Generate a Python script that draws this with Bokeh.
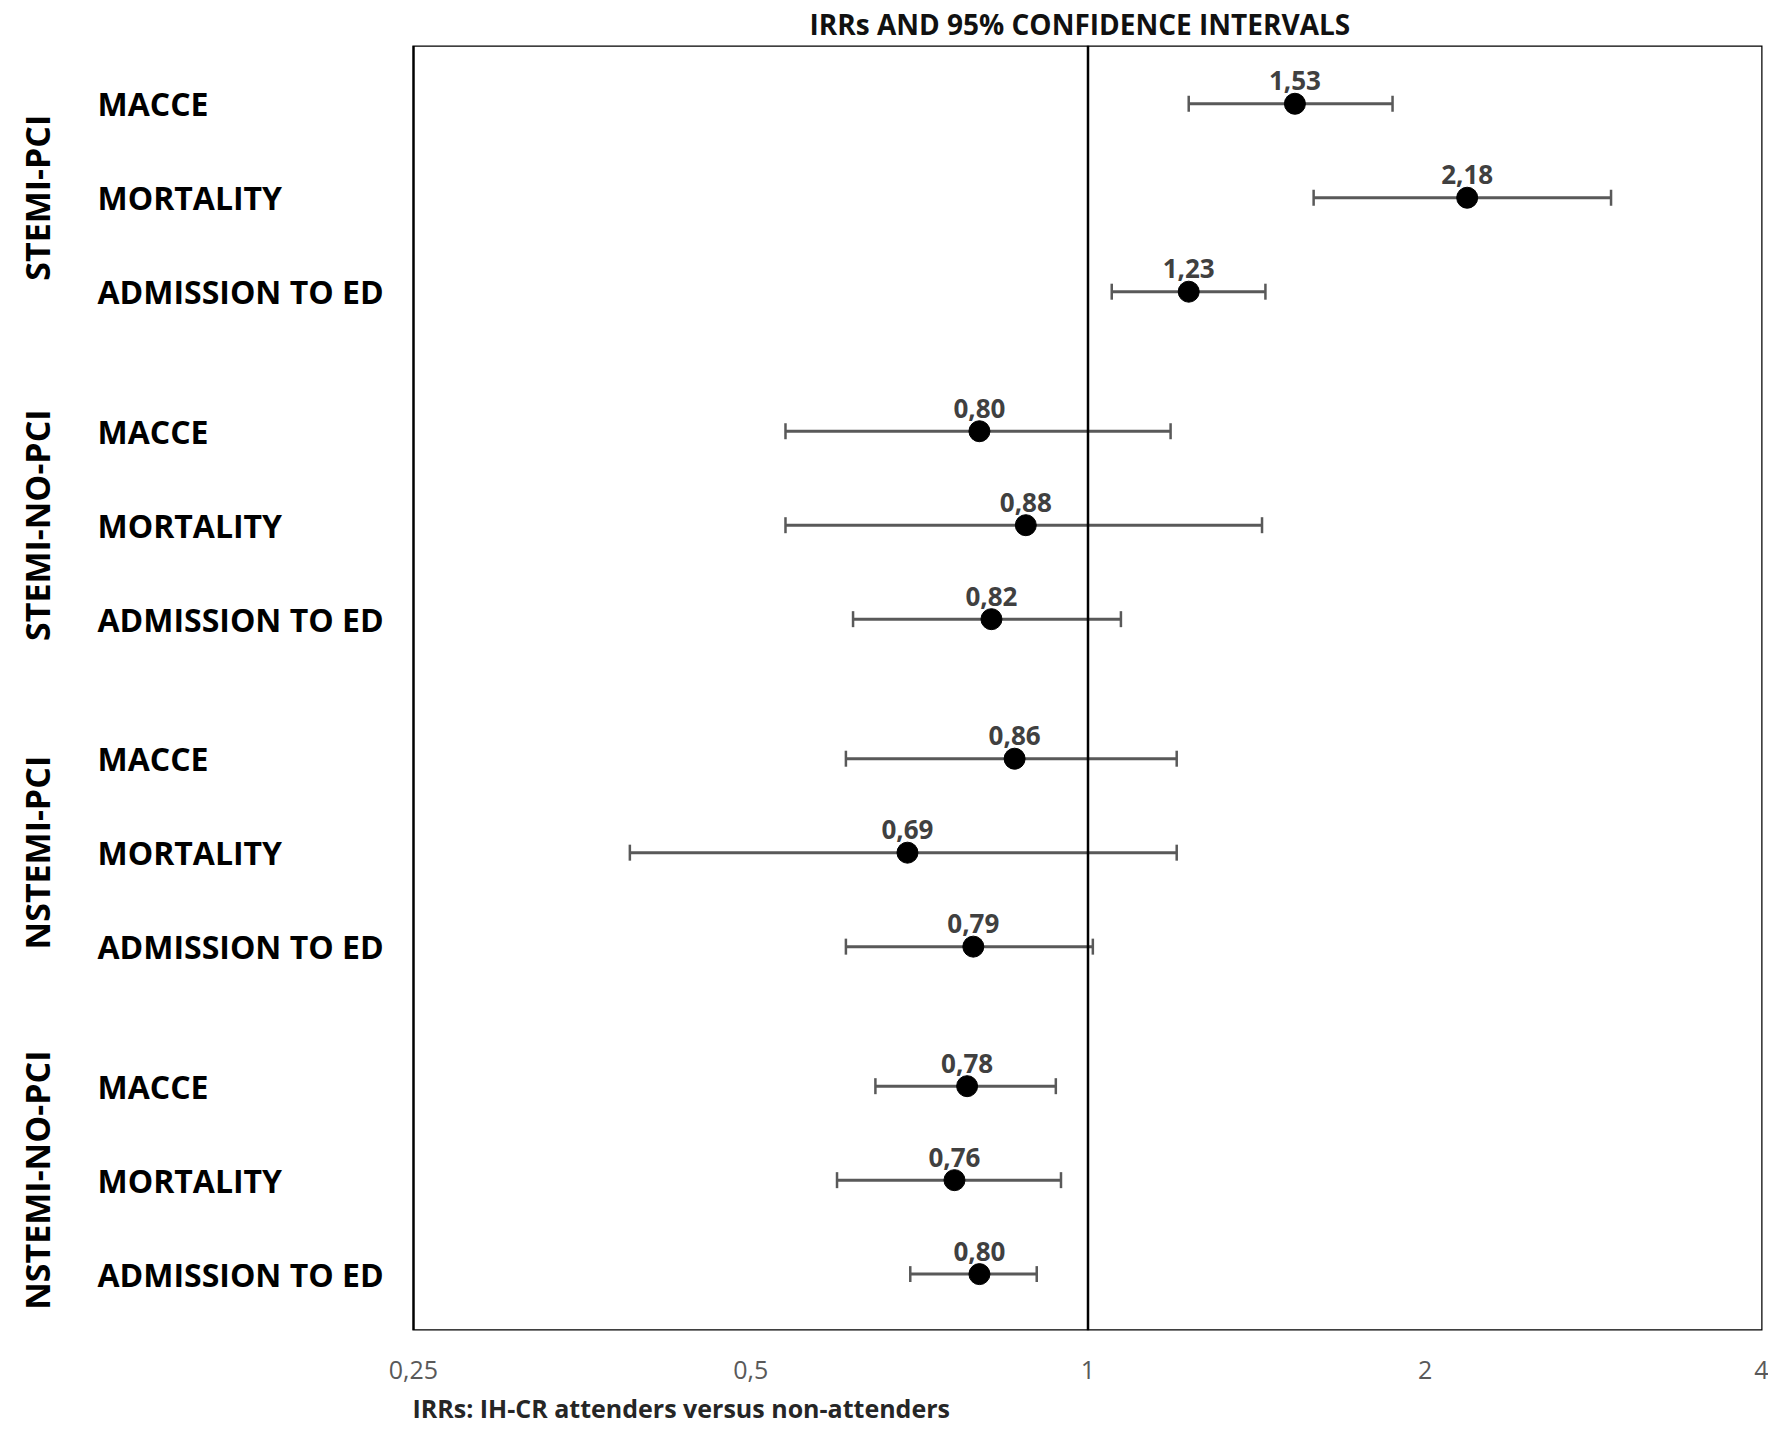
import math
from bokeh.plotting import figure
from bokeh.models import (Range1d, FixedTicker, CustomJSTickFormatter, Span, ColumnDataSource,
                          Whisker, TeeHead, Title, BoxAnnotation)
from bokeh.embed import file_html
from bokeh.resources import INLINE
from bokeh.core.properties import value

# ---------------- data ----------------
groups = ["STEMI-PCI", "STEMI-NO-PCI", "NSTEMI-PCI", "NSTEMI-NO-PCI"]
outcomes = ["MACCE", "MORTALITY", "ADMISSION TO ED"]
irr = [1.53, 2.18, 1.23, 0.80, 0.88, 0.82, 0.86, 0.69, 0.79, 0.78, 0.76, 0.80]
irr_text = ["1,53", "2,18", "1,23", "0,80", "0,88", "0,82", "0,86", "0,69", "0,79", "0,78", "0,76", "0,80"]
ci_low = [1.23, 1.59, 1.05, 0.537, 0.537, 0.617, 0.608, 0.39, 0.608, 0.646, 0.597, 0.694]
ci_high = [1.87, 2.93, 1.44, 1.185, 1.43, 1.07, 1.20, 1.20, 1.01, 0.936, 0.946, 0.90]
x_ticks = [0.25, 0.5, 1, 2, 4]
x_tick_labels = ["0,25", "0,5", "1", "2", "4"]
title_text = "IRRs AND 95% CONFIDENCE INTERVALS"
xlabel_text = "IRRs: IH-CR attenders versus non-attenders"

# ---------------- layout constants ----------------
FONT = "Open Sans"
LABEL_W = 413        # px of label area left of the plot box
PLOT_W = 1349        # px of the plot box
GROUP_GAP = 0.485    # extra spacing between groups (in row units)
X_MIN, X_MAX = x_ticks[0], x_ticks[-1]

px_per_log = PLOT_W / math.log2(X_MAX / X_MIN)
x_start = X_MIN / 2 ** (LABEL_W / px_per_log)

n_out = len(outcomes)
row_y = [g * (n_out + GROUP_GAP) + r for g in range(len(groups)) for r in range(n_out)]
row_label = [o for g in groups for o in outcomes]
group_y = [g * (n_out + GROUP_GAP) + (n_out - 1) / 2 for g in range(len(groups))]

y_top = -0.62
y_bottom = row_y[-1] + 0.60

src = ColumnDataSource(dict(y=row_y, irr=irr, lo=ci_low, hi=ci_high, txt=irr_text,
                            lab=row_label, xl=[X_MIN] * len(row_y)))
gsrc = ColumnDataSource(dict(y=group_y, name=groups, xl=[X_MIN] * len(groups)))

p = figure(x_axis_type="log", x_range=Range1d(x_start, X_MAX),
           y_range=Range1d(y_bottom, y_top),
           frame_width=LABEL_W + PLOT_W, height=1432,
           min_border_left=0, min_border_right=6, min_border_top=45, min_border_bottom=100,
           output_backend="svg", toolbar_location=None, y_axis_location=None,
           outline_line_color=None, background_fill_color="white", border_fill_color="white")

p.xgrid.visible = False
p.ygrid.visible = False

# Title
p.title.text = title_text
p.title.text_font = FONT
p.title.text_font_size = "28px"
p.title.text_font_style = "bold"
p.title.text_color = "#111111"
p.title.align = "left"
p.title.offset = 809
p.title.standoff = 5

# x axis
xa = p.xaxis[0]
xa.ticker = FixedTicker(ticks=x_ticks, minor_ticks=[])
xa.formatter = CustomJSTickFormatter(args=dict(tvals=x_ticks, tlabels=x_tick_labels), code="""
    for (let i = 0; i < tvals.length; i++) { if (Math.abs(tvals[i] - tick) < 1e-9) return tlabels[i]; }
    return String(tick);
""")
xa.axis_line_color = None
xa.major_tick_line_color = None
xa.minor_tick_line_color = None
xa.major_tick_out = 0
xa.major_tick_in = 0
xa.major_label_standoff = 30
xa.major_label_text_font = FONT
xa.major_label_text_font_size = "25px"
xa.major_label_text_color = "#595959"

p.add_layout(Title(text=xlabel_text, align="left", offset=LABEL_W - 1, text_font=FONT,
                   text_font_size="25px", text_font_style="bold", text_color="#262626",
                   standoff=15), "below")

# plot box
p.add_layout(BoxAnnotation(left=X_MIN, right=X_MAX, fill_alpha=0, line_color="black",
                           line_width=2.5, line_alpha=1))
# reference line at 1
p.add_layout(Span(location=1, dimension="height", line_color="black", line_width=2.5))

# CIs
p.add_layout(Whisker(source=src, base="y", lower="lo", upper="hi", dimension="width",
                     line_color="#595959", line_width=3,
                     upper_head=TeeHead(size=16, line_color="#595959", line_width=2.5),
                     lower_head=TeeHead(size=16, line_color="#595959", line_width=2.5)))

p.scatter(x="irr", y="y", source=src, size=21, color="black")
p.text(x="irr", y="y", text="txt", source=src, text_align="center", text_baseline="alphabetic",
       y_offset=-23, text_font=value(FONT), text_font_size="26px", text_font_style="bold",
       text_color="#404040")

# row labels
p.text(x="xl", y="y", text="lab", source=src, x_offset=-(LABEL_W - 97), text_align="left",
       text_baseline="middle", text_font=value(FONT), text_font_size="32px",
       text_font_style="bold", text_color="black")
# group labels
p.text(x="xl", y="y", text="name", source=gsrc, x_offset=-(LABEL_W - 36), angle=math.pi / 2,
       text_align="center", text_baseline="middle", text_font=value(FONT), text_font_size="34px",
       text_font_style="bold", text_color="black")

open("out.html", "w").write(file_html(p, INLINE))
